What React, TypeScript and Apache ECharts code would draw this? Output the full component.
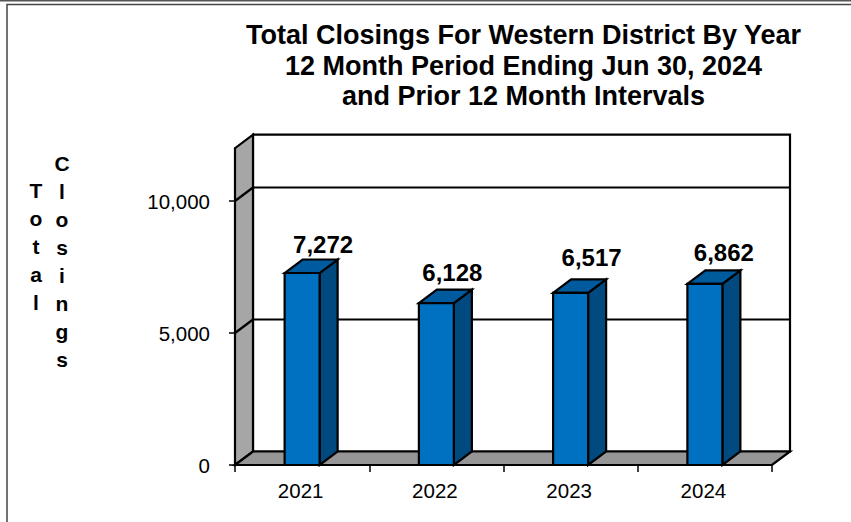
import React, { useEffect, useRef } from "react";
import * as echarts from "echarts";

const categories = ["2021", "2022", "2023", "2024"];
const closings = [7272, 6128, 6517, 6862];
const yTickValues = [0, 5000, 10000];
const gridValues = [5000, 10000];
const titleLines = [
  "Total Closings For Western District By Year",
  "12 Month Period Ending Jun 30, 2024",
  "and Prior 12 Month Intervals",
];
const yTitleColumns = ["Total", "Closings"];

const FONT = '"Liberation Sans", Arial, sans-serif';
const DX = 18;
const DY = 13.5;
const LINE = { stroke: "#000", lineWidth: 2.2, lineJoin: "miter" };
const labelNudgeX = [21, 16, 21, 19];
const labelNudgeY = [-29, -31, -35, -31];

function poly(points: number[][], fill: string) {
  return { type: "polygon", shape: { points }, style: { fill, ...LINE } };
}
function seg(x1: number, y1: number, x2: number, y2: number) {
  return { type: "line", shape: { x1, y1, x2, y2 }, style: { ...LINE, fill: "none" } };
}

function renderWalls(params: any, api: any) {
  const c = params.coordSys;
  const l = c.x, r = c.x + c.width, t = c.y, b = c.y + c.height;
  const children: any[] = [
    poly([[l + DX, t - DY], [r + DX, t - DY], [r + DX, b - DY], [l + DX, b - DY]], "#ffffff"),
    poly([[l, b], [l, t], [l + DX, t - DY], [l + DX, b - DY]], "#a6a6a6"),
    poly([[l, b], [l + DX, b - DY], [r + DX, b - DY], [r, b]], "#969696"),
  ];
  gridValues.forEach((v) => {
    const y = api.coord([0, v])[1];
    children.push(seg(l, y, l + DX, y - DY), seg(l + DX, y - DY, r + DX, y - DY));
  });
  return { type: "group", children };
}

function renderBar(params: any, api: any) {
  const i = api.value(0);
  const v = api.value(1);
  const [cx, top] = api.coord([i, v]);
  const [, base] = api.coord([i, 0]);
  const hw = 17.5;
  const l = cx - hw, r = cx + hw;
  return {
    type: "group",
    children: [
      poly([[r, base], [r, top], [r + DX, top - DY], [r + DX, base - DY]], "#004a80"),
      poly([[l, top], [l + DX, top - DY], [r + DX, top - DY], [r, top]], "#005a9e"),
      poly([[l, base], [l, top], [r, top], [r, base]], "#0070c0"),
      {
        type: "text",
        style: {
          x: cx + labelNudgeX[i],
          y: top + labelNudgeY[i],
          text: v.toLocaleString("en-US"),
          fill: "#000",
          fontFamily: FONT,
          fontWeight: "bold",
          fontSize: 24,
          align: "center",
          verticalAlign: "middle",
        },
      },
    ],
  };
}

export default function App() {
  const ref = useRef<HTMLDivElement>(null);
  useEffect(() => {
    document.body.style.margin = "0";
    const chart = echarts.init(ref.current!, undefined, { renderer: "svg" });
    chart.setOption({
      animation: false,
      backgroundColor: "#ffffff",
      grid: { left: 235, right: 79, top: 148.2, bottom: 57, containLabel: false },
      xAxis: {
        type: "category",
        data: categories,
        z: 3,
        axisLine: { lineStyle: { color: "#000", width: 2 } },
        axisTick: { show: true, length: 7, alignWithLabel: false, lineStyle: { color: "#000", width: 1.5 } },
        axisLabel: { color: "#000", fontFamily: FONT, fontSize: 20.5, margin: 15, padding: [0, 3, 0, 0] },
        splitLine: { show: false },
      },
      yAxis: {
        type: "value",
        min: 0,
        max: 12000,
        interval: 5000,
        z: 3,
        axisLine: { show: true, lineStyle: { color: "#000", width: 2 } },
        axisTick: { show: true, length: 6, customValues: yTickValues, lineStyle: { color: "#000", width: 1.5 } },
        axisLabel: {
          color: "#000",
          fontFamily: FONT,
          fontSize: 20.5,
          margin: 25,
          customValues: yTickValues,
          formatter: (v: number) => v.toLocaleString("en-US"),
        },
        splitLine: { show: false },
      },
      graphic: [
        { type: "line", z: 0, shape: { x1: 0, y1: 0.5, x2: 851, y2: 0.5 }, style: { stroke: "#555", lineWidth: 2 } },
        { type: "polyline", z: 0, shape: { points: [[7, 522], [7, 4.5], [851, 4.5]] }, style: { stroke: "#444", lineWidth: 1.5, fill: "none" } },
        ...titleLines.map((text, i) => ({
          type: "text",
          x: 523.5,
          y: 35 + i * 30.5,
          style: { text, fill: "#000", fontFamily: FONT, fontWeight: "bold", fontSize: 27, align: "center", verticalAlign: "middle" },
        })),
        ...yTitleColumns.map((word, i) => ({
          type: "text",
          x: i === 0 ? 36 : 62,
          y: i === 0 ? 176 : 149,
          style: {
            text: word.split("").join("\n"),
            fill: "#000",
            fontFamily: FONT,
            fontWeight: "bold",
            fontSize: 21,
            lineHeight: 28,
            align: "center",
            verticalAlign: "top",
          },
        })),
      ],
      series: [
        {
          type: "custom",
          z: 2,
          silent: true,
          clip: false,
          renderItem: renderWalls,
          encode: { x: 0, y: 1 },
          data: [[0, 0]],
        },
        {
          type: "custom",
          z: 4,
          silent: true,
          clip: false,
          renderItem: renderBar,
          encode: { x: 0, y: 1 },
          data: closings.map((v, i) => [i, v]),
        },
      ],
    });
    return () => chart.dispose();
  }, []);
  return <div ref={ref} style={{ width: 851, height: 522 }} />;
}
